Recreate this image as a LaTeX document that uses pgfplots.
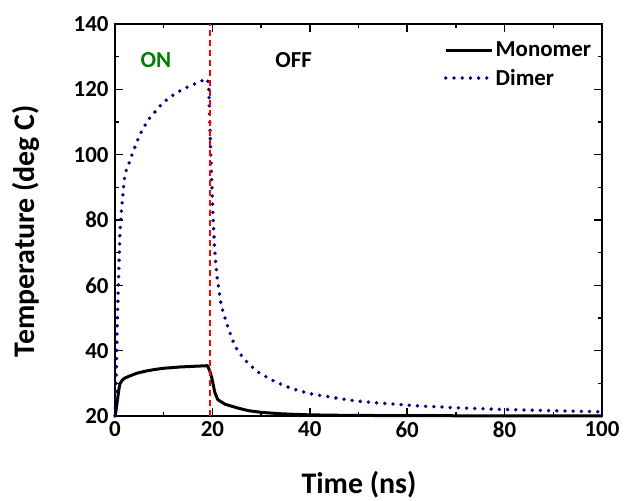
\documentclass[border=0pt]{standalone}
\usepackage{pgfplots}
\pgfplotsset{compat=1.18}
\usepackage{fontspec}
\setmainfont{Carlito}
\definecolor{dimerblue}{RGB}{0,0,128}
\definecolor{ongreen}{RGB}{0,128,0}
\begin{document}
\begin{tikzpicture}
\useasboundingbox (-115bp,-85bp) rectangle (509bp,416bp);
\begin{axis}[
  at={(0,0)}, anchor=south west,
  scale only axis, width=487bp, height=392bp,
  xmin=0, xmax=100, ymin=20, ymax=140,
  xtick={0,20,40,60,80,100}, ytick={20,40,60,80,100,120,140},
  minor x tick num=1, minor y tick num=1,
  tick align=inside,
  major tick length=8bp, minor tick length=4bp,
  axis line style={line width=2bp},
  every tick/.style={line width=1.5bp, black},
  /pgf/number format/assume math mode=true,
  tick label style={font=\fontsize{23}{27}\selectfont\bfseries},
  yticklabel style={xshift=-3bp},
  xticklabel style={yshift=-2bp},
  xlabel={Time (ns)}, ylabel={Temperature (deg C)},
  label style={font=\fontsize{30}{34}\selectfont\bfseries},
  xlabel style={at={(axis description cs:0.501,-0.175)}, anchor=center},
  ylabel style={at={(axis description cs:-0.183,0.472)}, anchor=center},
  legend style={draw=none, fill=none, at={(0.988,0.965)}, anchor=north east,
    font=\fontsize{23}{27}\selectfont\bfseries, row sep=7bp,
    /tikz/every even column/.append style={column sep=1bp}},
  legend cell align=left,
  legend image code/.code={\draw[#1] (0bp,0bp) -- (46bp,0bp);},
  clip=false,
]
\addplot[black, line width=3bp, line join=round] coordinates {
(0,20) (0.2,21.5) (0.5,24.9) (0.8,28.2) (1.0,29.8) (1.5,31.0) (2,31.6) (3.1,32.3) (4.5,33.1) (6.5,33.8) (8,34.2) (9.9,34.6) (13.3,35.0) (16,35.2) (19.0,35.4)
(19.5,33.6) (19.9,31.5) (20.5,27.2) (21.1,25.0) (22.6,23.6) (25.3,22.4) (27.5,21.6) (30.1,21.1) (33.9,20.7) (37,20.5) (40,20.35) (47.2,20.2) (60,20.1) (80,20.05) (100,20.0)
};
\addlegendentry{Monomer}
\addplot[dimerblue, line width=3.8bp, line cap=round, dash pattern=on 0bp off 8.2bp] coordinates {
(0,20) (0.2,26) (0.34,39.2) (0.48,49.4) (0.68,59.6) (0.89,69.8) (1.0,75.9) (1.23,81.5) (1.58,87.1) (1.85,91.7) (2.19,94.6) (2.8,97.1) (3.42,99.7) (4.1,102.4) (4.8,105) (5.5,107.2) (6.4,109.6) (7.3,111.6) (8.4,113.4) (9.7,115.7) (11.2,117.5) (12.8,119.1) (14.4,120.4) (16.1,121.5) (17.8,122.6) (19.0,123.2)
(19.24,120.5) (19.36,115.5) (19.57,104.5) (19.86,91.3) (20.12,80.9) (20.47,71.0) (20.7,66.5) (21.0,62.0) (21.4,58.0) (21.8,54.0) (22.4,50.9) (22.9,48.4) (23.5,46.0) (24.0,43.7) (24.8,41.0) (25.8,38.8) (27.0,36.7) (28.3,34.8) (29.7,33.1) (31.4,31.7) (32.9,30.5) (34.6,29.4) (36.3,28.4) (38.0,27.7) (39.8,26.9) (41.6,26.4) (43.5,26.0) (45.2,25.55) (47.0,25.15) (48.7,24.8) (50.5,24.45) (52.4,24.2) (54.1,24.0) (55.9,23.8) (57.7,23.6) (59.5,23.4) (61.3,23.2) (63.1,23.0) (64.9,22.9) (66.7,22.8) (68.5,22.6) (70.3,22.5) (72.0,22.4) (73.8,22.3) (75.6,22.2) (80,22.0) (85,21.8) (90,21.6) (95,21.45) (100,21.3)
};
\addlegendentry{Dimer}
\addplot[red, line width=1.3bp, dash pattern=on 6bp off 4bp, forget plot] coordinates {(19.5,20) (19.5,140)};
\node[font=\fontsize{23}{27}\selectfont\bfseries, text=ongreen] at (axis cs:8.4,129) {ON};
\node[font=\fontsize{23}{27}\selectfont\bfseries] at (axis cs:36.7,129) {OFF};
\end{axis}
\end{tikzpicture}
\end{document}
